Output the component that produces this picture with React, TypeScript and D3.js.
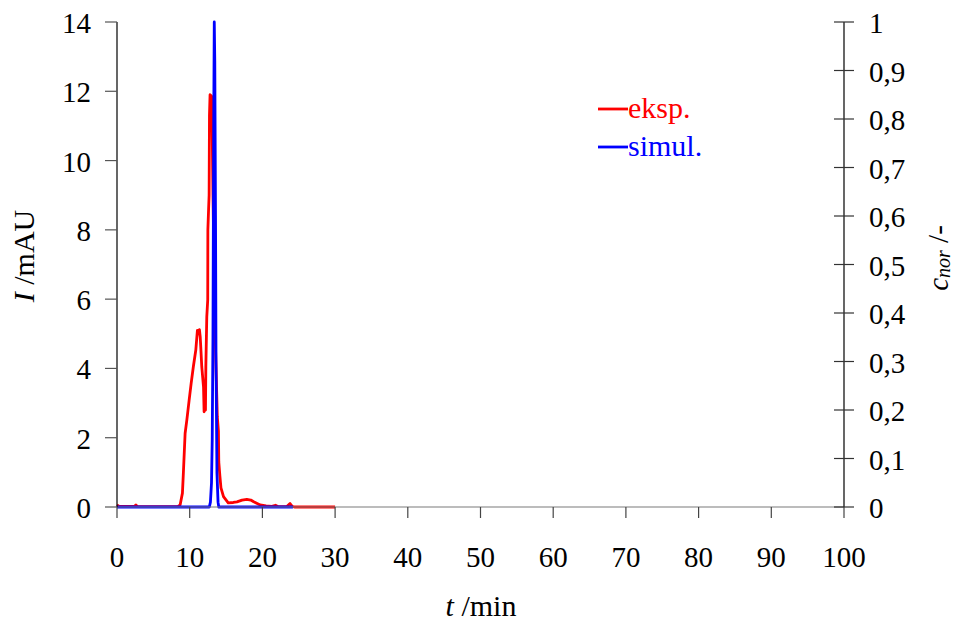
import React from "react";
import * as d3 from "d3";

const xTicks = [0, 10, 20, 30, 40, 50, 60, 70, 80, 90, 100];
const yLeftTicks = [0, 2, 4, 6, 8, 10, 12, 14];
const yRightTicks = [0, 0.1, 0.2, 0.3, 0.4, 0.5, 0.6, 0.7, 0.8, 0.9, 1];

// experimental signal I (mAU) vs t (min)
const expT = [0, 0.3, 2.4, 2.6, 2.8, 8.4, 8.68, 9.0, 9.13, 9.37, 9.6, 9.92, 10.2, 10.5, 10.84, 11.06, 11.2, 11.34, 11.45, 11.52, 11.66, 11.9, 11.98, 12.1, 12.17, 12.22, 12.35, 12.48, 12.5, 12.6, 12.67, 12.72, 12.8, 13.04, 13.2, 13.5, 13.8, 13.95, 14.0, 14.15, 14.3, 14.65, 15.3, 16.0, 16.5, 17.2, 17.86, 18.4, 18.8, 19.7, 20.5, 21.3, 21.8, 22.2, 23.4, 23.8, 24.1, 24.4, 30];
const expI = [0.06, 0.02, 0.02, 0.06, 0.01, 0.02, 0.06, 0.4, 0.98, 2.13, 2.5, 3.08, 3.57, 4.05, 4.53, 5.1, 5.0, 5.12, 4.9, 4.63, 4.05, 3.47, 2.75, 2.9, 2.8, 4.05, 5.49, 5.98, 8.0, 8.6, 9.0, 11.3, 11.9, 11.85, 9.0, 5.0, 2.6, 2.2, 1.3, 0.9, 0.55, 0.3, 0.12, 0.13, 0.15, 0.2, 0.22, 0.2, 0.15, 0.06, 0.03, 0.02, 0.05, 0.01, 0.02, 0.1, 0.02, 0.0, 0.0];

// simulated normalized concentration
const simT = [0, 12.7, 12.85, 13.0, 13.1, 13.2, 13.3, 13.38, 13.45, 13.55, 13.62, 13.75, 13.9, 14.0, 24.2];
const simC = [0, 0, 0.01, 0.05, 0.14, 0.35, 0.78, 1.0, 0.92, 0.6, 0.3, 0.07, 0.01, 0, 0];

const legendItems = [
  { label: "eksp.", color: "#ff0000" },
  { label: "simul.", color: "#0000ff" },
];

const FONT = "'Liberation Serif', 'Times New Roman', serif";

export default function App() {
  const W = 956, H = 626;
  const x = d3.scaleLinear().domain([0, 100]).range([117, 844]);
  const yL = d3.scaleLinear().domain([0, 14]).range([507, 22]);
  const yR = d3.scaleLinear().domain([0, 1]).range([507, 22]);

  const expLine = d3.line<number>().x((_, i) => x(expT[i])).y((d) => yL(d));
  const simLine = d3.line<number>().x((_, i) => x(simT[i])).y((d) => yR(d));

  const fmtR = (v: number) => (v === 0 || v === 1 ? String(v) : v.toFixed(1).replace(".", ","));

  return (
    <svg width={W} height={H} style={{ position: "fixed", left: 0, top: 0, background: "#fff" }} fontFamily={FONT}>
      <rect x={0} y={0} width={W} height={H} fill="#fff" />
      {/* data */}
      <path d={expLine(expI) || ""} fill="none" stroke="#ff0000" strokeWidth={2.8} strokeLinejoin="round" />
      <path d={simLine(simC) || ""} fill="none" stroke="#0000ff" strokeWidth={2.8} strokeLinejoin="round" />

      {/* x axis */}
      <line x1={x(0)} x2={x(100)} y1={yL(0)} y2={yL(0)} stroke="#7a7a7a" strokeWidth={1.2} />
      {xTicks.map((t) => (
        <g key={"xt" + t}>
          <line x1={x(t)} x2={x(t)} y1={yL(0)} y2={yL(0) + 11} stroke="#444" strokeWidth={1.2} />
          <text x={x(t)} y={567} fontSize={29} textAnchor="middle" fill="#000">{t}</text>
        </g>
      ))}

      {/* left axis */}
      <line x1={x(0)} x2={x(0)} y1={yL(0)} y2={yL(14)} stroke="#000" strokeWidth={1.2} />
      {yLeftTicks.map((v) => (
        <g key={"yl" + v}>
          <line x1={x(0) - 12} x2={x(0)} y1={yL(v)} y2={yL(v)} stroke="#555" strokeWidth={1.2} />
          <text x={91} y={yL(v) + 11} fontSize={29} textAnchor="end" fill="#000">{v}</text>
        </g>
      ))}

      {/* right axis */}
      <line x1={x(100)} x2={x(100)} y1={yR(0)} y2={yR(1)} stroke="#000" strokeWidth={1.2} />
      {yRightTicks.map((v) => (
        <g key={"yr" + v}>
          <line x1={x(100) - 10} x2={x(100) + 10} y1={yR(v)} y2={yR(v)} stroke="#333" strokeWidth={1.2} />
          <text x={869} y={yR(v) + 11} fontSize={29} textAnchor="start" fill="#000">{fmtR(v)}</text>
        </g>
      ))}

      {/* axis titles */}
      <text transform="translate(34,256) rotate(-90)" fontSize={30} textAnchor="middle" fill="#000">
        <tspan fontStyle="italic">I</tspan>
        <tspan> /mAU</tspan>
      </text>
      <text x={481} y={616} fontSize={30} textAnchor="middle" fill="#000">
        <tspan fontStyle="italic">t</tspan>
        <tspan> /min</tspan>
      </text>
      <text transform="translate(948,258) rotate(-90)" fontSize={29} textAnchor="middle" fill="#000">
        <tspan fontStyle="italic">c</tspan>
        <tspan fontStyle="italic" fontSize={20} dy={2}>nor</tspan>
        <tspan dy={-2}> /-</tspan>
      </text>

      {/* legend */}
      {legendItems.map((it, i) => (
        <g key={it.label} transform={`translate(598,${109 + i * 38})`}>
          <line x1={0} x2={30} y1={0} y2={0} stroke={it.color} strokeWidth={2.8} />
          <text x={30} y={9} fontSize={30} fill={it.color}>{it.label}</text>
        </g>
      ))}
    </svg>
  );
}
